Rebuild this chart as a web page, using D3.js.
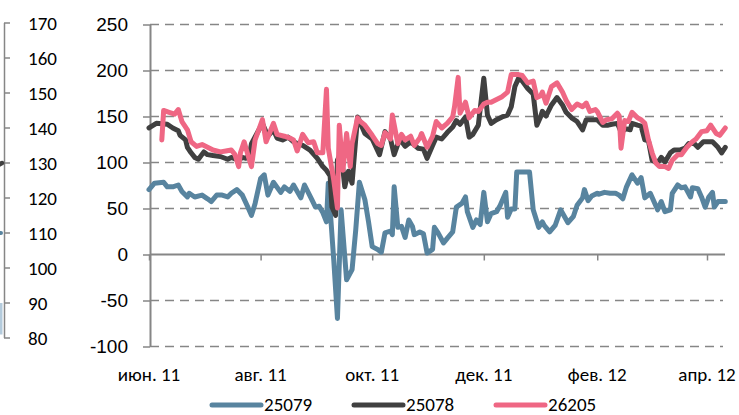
<!DOCTYPE html>
<html>
<head>
<meta charset="utf-8">
<script src="https://cdn.jsdelivr.net/npm/d3@7"></script>
<style>
  body { margin: 0; background: #fff; }
  svg { display: block; font-family: Carlito, Calibri, Lato, "Open Sans", sans-serif; }
</style>
</head>
<body>
<svg id="chart" width="739" height="415"></svg>
<script>
// day offsets from 1 June 2011, value pairs
var s25079 = [[0,70],[3,77],[8,78],[10,73],[13,73],[16,75],[18,68],[21,62],[22,66],[25,62],[29,64],[32,60],[34,57],[37,64],[40,64],[43,62],[45,66],[48,70],[51,64],[54,51],[56,42],[58,55],[61,82],[63,86],[65,64],[68,78],[72,67],[74,73],[77,68],[79,75],[83,61],[85,75],[89,59],[91,51],[93,52],[95,45],[97,35],[98,77],[101,-7],[103,-70],[105,48],[108,-28],[111,-17],[113,26],[115,78],[118,59],[120,35],[122,8],[125,5],[127,2],[129,23],[132,25],[133,21],[134,73],[136,29],[138,30],[140,18],[142,37],[144,30],[145,21],[148,24],[150,22],[152,1],[155,5],[156,29],[158,23],[161,12],[163,17],[166,24],[168,51],[171,55],[173,62],[174,46],[177,29],[179,37],[181,32],[183,67],[185,35],[187,44],[190,46],[192,53],[195,67],[196,40],[198,49],[200,49],[201,89],[205,89],[208,89],[210,48],[213,29],[215,35],[216,31],[219,24],[222,31],[225,48],[227,41],[229,34],[232,41],[234,53],[237,61],[238,70],[240,58],[242,63],[245,66],[246,65],[249,67],[252,66],[255,66],[257,64],[259,60],[261,73],[264,86],[267,77],[269,83],[271,61],[274,66],[276,57],[278,48],[280,57],[282,46],[285,48],[286,66],[289,75],[291,72],[293,73],[296,62],[297,72],[300,71],[302,62],[304,51],[306,62],[308,67],[309,51],[311,57],[315,57]];

var s25078 = [[0,137],[4,142],[10,141],[13,137],[16,134],[17,129],[20,124],[21,116],[23,110],[25,105],[27,103],[30,111],[32,108],[35,107],[39,106],[43,103],[45,105],[49,102],[51,105],[53,104],[55,108],[56,120],[59,131],[62,142],[65,128],[68,135],[70,126],[73,124],[76,127],[79,122],[81,120],[84,118],[88,113],[92,104],[95,95],[97,91],[99,85],[100,51],[102,42],[103,102],[105,110],[107,73],[109,90],[111,77],[114,149],[115,145],[118,131],[122,125],[126,108],[129,133],[132,125],[134,108],[137,125],[140,117],[143,122],[147,115],[150,114],[152,104],[155,118],[157,127],[160,125],[163,132],[166,138],[168,145],[170,141],[173,149],[175,127],[177,130],[180,140],[183,191],[185,151],[187,142],[190,146],[193,149],[196,151],[198,160],[200,182],[202,191],[204,188],[207,180],[210,174],[212,140],[214,149],[215,155],[217,150],[220,162],[223,170],[226,162],[228,154],[231,148],[234,144],[237,135],[239,146],[242,146],[245,146],[248,140],[251,140],[253,141],[256,142],[258,133],[261,136],[263,135],[264,142],[267,140],[269,139],[271,124],[273,123],[275,102],[278,99],[280,105],[282,100],[285,110],[287,113],[290,113],[293,115],[295,120],[298,120],[300,116],[303,122],[306,122],[308,122],[311,116],[313,110],[315,116]];

var s26205 = [[7,124],[8,156],[11,154],[14,152],[16,157],[18,144],[21,135],[23,122],[26,117],[29,119],[32,116],[35,113],[39,111],[42,112],[45,113],[47,108],[49,95],[50,110],[52,122],[54,108],[56,95],[58,124],[62,146],[64,122],[68,142],[70,130],[74,128],[77,126],[79,124],[81,112],[84,130],[87,121],[90,122],[92,110],[95,110],[97,179],[98,115],[101,80],[103,50],[104,140],[106,91],[108,131],[110,95],[111,120],[114,148],[115,145],[118,140],[122,129],[125,120],[127,118],[129,132],[132,125],[133,151],[136,120],[138,130],[140,124],[143,128],[145,118],[148,126],[149,131],[152,116],[155,128],[157,144],[160,137],[163,142],[166,149],[167,160],[169,192],[170,153],[173,165],[175,148],[178,156],[180,155],[183,163],[185,165],[187,165],[190,168],[193,171],[196,176],[198,195],[202,195],[204,194],[207,186],[210,188],[212,170],[214,172],[215,176],[217,164],[220,182],[223,186],[226,176],[228,167],[231,157],[234,163],[237,160],[239,164],[241,155],[244,157],[245,155],[248,143],[250,146],[253,147],[256,153],[257,150],[258,115],[260,145],[262,144],[264,154],[267,148],[269,146],[271,142],[273,124],[275,110],[277,99],[279,95],[282,95],[284,93],[286,102],[289,108],[291,108],[294,116],[297,122],[299,125],[302,133],[305,134],[307,140],[310,131],[312,129],[315,137]];

var seriesNames = ["25079", "25078", "26205"];
var seriesColors = ["#58849f", "#404040", "#ef6784"];
var yTicks = [-100, -50, 0, 50, 100, 150, 200, 250];
var tickDates = ["2011-06-01", "2011-08-01", "2011-10-01", "2011-12-01", "2012-02-01", "2012-04-01"];
var tickLabels = ["июн. 11", "авг. 11", "окт. 11", "дек. 11", "фев. 12", "апр. 12"];

// neighbouring chart, only its right axis and line ends show at the left edge
var leftTicks = [80, 90, 100, 110, 120, 130, 140, 150, 160, 170];
var leftGray = [129, 130];
var leftBlue = [110, 110];
var leftPale = [81, 90];

var svg = d3.select("#chart");
var start = new Date(2011, 5, 1);
var parse = d3.timeParse("%Y-%m-%d");
var fontSize = "19px";

var x = d3.scaleTime()
  .domain([start, new Date(2012, 3, 1)])
  .range([149, 707]);
var y = d3.scaleLinear().domain([-100, 250]).range([346, 24]);
var plotLeft = 150, plotRight = 725;

var gridColor = "#868686";

// dashed grid lines
svg.append("g")
  .selectAll("line")
  .data(yTicks.filter(d => d !== 0))
  .join("line")
  .attr("x1", plotLeft).attr("x2", plotRight - 2)
  .attr("y1", d => y(d) + 0.5).attr("y2", d => y(d) + 0.5)
  .attr("stroke", gridColor)
  .attr("stroke-width", 1.5)
  .attr("stroke-dasharray", "9,6");

// y axis
var yAxis = svg.append("g")
  .attr("transform", `translate(${plotLeft},0.5)`)
  .call(d3.axisLeft(y).tickValues(yTicks).tickFormat(d => String(d))
    .tickSize(7).tickPadding(15).tickSizeOuter(0));
yAxis.select(".domain").attr("stroke", gridColor).attr("stroke-width", 2);
yAxis.selectAll(".tick line").attr("stroke", gridColor).attr("stroke-width", 1.5);
yAxis.selectAll(".tick text").attr("fill", "#000").style("font-size", fontSize)
  .attr("font-family", null);

// x axis on the zero line
svg.append("line")
  .attr("x1", plotLeft).attr("x2", plotRight)
  .attr("y1", y(0) + 0.5).attr("y2", y(0) + 0.5)
  .attr("stroke", gridColor).attr("stroke-width", 2);
var xAxis = svg.append("g")
  .attr("transform", `translate(0,${y(0) + 0.5})`)
  .call(d3.axisBottom(x).tickValues(tickDates.map(parse)).tickSize(6).tickFormat("").tickSizeOuter(0));
xAxis.select(".domain").remove();
xAxis.selectAll(".tick line").attr("stroke", gridColor).attr("stroke-width", 1.5);

svg.append("g")
  .selectAll("text")
  .data(tickDates)
  .join("text")
  .attr("x", d => x(parse(d)))
  .attr("y", 381)
  .attr("text-anchor", "middle")
  .style("font-size", fontSize)
  .text((d, i) => tickLabels[i]);

// series
var line = d3.line()
  .x(d => x(d3.timeDay.offset(start, d[0])))
  .y(d => y(d[1]));

[s25079, s25078, s26205].forEach(function(s, i) {
  svg.append("path")
    .datum(s)
    .attr("fill", "none")
    .attr("stroke", seriesColors[i])
    .attr("stroke-width", 5)
    .attr("stroke-linejoin", "round")
    .attr("stroke-linecap", "round")
    .attr("d", line);
});

// legend
var legend = svg.append("g").attr("transform", "translate(210,405)");
var legendStep = 142;
seriesNames.forEach(function(name, i) {
  var g = legend.append("g").attr("transform", `translate(${i * legendStep},0)`);
  g.append("line")
    .attr("x1", 2).attr("x2", 51)
    .attr("stroke", seriesColors[i])
    .attr("stroke-width", 5)
    .attr("stroke-linecap", "round");
  g.append("text")
    .attr("x", 54).attr("y", 6)
    .style("font-size", fontSize)
    .text(name);
});

// neighbouring chart edge
var yl = d3.scaleLinear().domain([80, 170]).range([338, 23]);
var left = svg.append("g");
left.append("line")
  .attr("x1", 4.5).attr("x2", 4.5)
  .attr("y1", yl(80)).attr("y2", yl(170))
  .attr("stroke", gridColor).attr("stroke-width", 1.5);
left.selectAll(".lt")
  .data(leftTicks)
  .join("line")
  .attr("class", "lt")
  .attr("x1", 4).attr("x2", 10)
  .attr("y1", d => yl(d)).attr("y2", d => yl(d))
  .attr("stroke", gridColor).attr("stroke-width", 1.5);
left.selectAll("text")
  .data(leftTicks)
  .join("text")
  .attr("x", 28)
  .attr("y", d => yl(d) + 7)
  .style("font-size", fontSize)
  .text(d => d);
left.append("line")
  .attr("x1", -4).attr("x2", 2)
  .attr("y1", yl(leftGray[0])).attr("y2", yl(leftGray[1]))
  .attr("stroke", "#404040").attr("stroke-width", 4.5).attr("stroke-linecap", "round");
left.append("line")
  .attr("x1", -4).attr("x2", 1)
  .attr("y1", yl(leftBlue[0])).attr("y2", yl(leftBlue[1]))
  .attr("stroke", "#58849f").attr("stroke-width", 4).attr("stroke-linecap", "round");
left.append("line")
  .attr("x1", 1).attr("x2", 1)
  .attr("y1", yl(leftPale[0])).attr("y2", yl(leftPale[1]))
  .attr("stroke", "#b4cbdc").attr("stroke-width", 3);
</script>
</body>
</html>
